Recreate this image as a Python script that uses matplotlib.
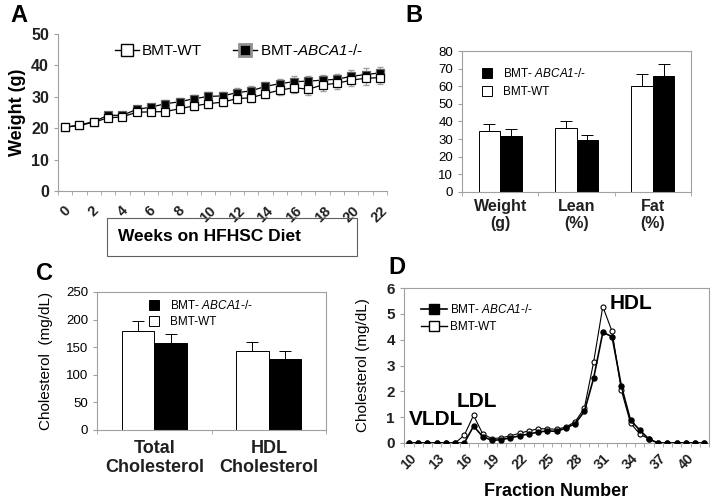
import matplotlib
matplotlib.use("Agg")
import matplotlib.pyplot as plt
from matplotlib.lines import Line2D
from matplotlib.patches import Rectangle, Patch
import numpy as np

plt.rcParams['font.family'] = ['Liberation Sans', 'DejaVu Sans']
plt.rcParams['mathtext.fontset'] = 'custom'
plt.rcParams['mathtext.rm'] = 'Liberation Sans:italic'
plt.rcParams['mathtext.it'] = 'Liberation Sans:italic'
plt.rcParams['mathtext.bf'] = 'Liberation Sans:bold:italic'

# ---------------- Data ----------------
# Panel A: body weight over weeks
weeks = list(range(0, 23))
wt_weight = [20.3, 20.9, 21.9, 23.3, 23.6, 25.1, 25.2, 25.3, 26.2, 27.1, 27.8, 28.3,
             29.4, 29.7, 31.0, 32.1, 32.9, 32.4, 33.8, 34.3, 35.3, 35.9, 36.1]
ko_weight = [20.3, 21.0, 22.1, 24.1, 24.1, 26.0, 26.7, 27.8, 28.4, 29.4, 30.1, 30.3,
             31.3, 31.9, 33.3, 34.2, 34.8, 35.0, 35.3, 35.6, 36.5, 37.1, 37.6]
wt_weight_err = [0.5, 0.6, 0.7, 0.8, 0.8, 0.9, 1.0, 1.1, 1.1, 1.2, 1.3, 1.3,
                 1.4, 1.5, 1.5, 1.6, 1.7, 1.7, 1.8, 1.8, 1.9, 2.0, 2.0]
ko_weight_err = [0.5, 0.6, 0.7, 0.8, 0.8, 0.9, 1.0, 1.1, 1.1, 1.2, 1.3, 1.3,
                 1.4, 1.5, 1.5, 1.6, 1.7, 1.7, 1.8, 1.8, 1.9, 2.0, 2.0]
weeks_ticklabels = [str(w) for w in range(0, 23, 2)]

# Panel B: body composition
b_categories = ["Weight\n(g)", "Lean\n(%)", "Fat\n(%)"]
b_wt = [34.5, 36.2, 60.3]
b_wt_err = [4.0, 4.2, 6.8]
b_ko = [32.0, 29.3, 65.8]
b_ko_err = [3.5, 3.2, 6.7]

# Panel C: plasma cholesterol
c_categories = ["Total\nCholesterol", "HDL\nCholesterol"]
c_wt = [179, 143]
c_wt_err = [19, 16]
c_ko = [158, 128]
c_ko_err = [16, 15]

# Panel D: FPLC profile
fractions = list(range(10, 43))
d_ko = [0, 0, 0, 0, 0, 0, 0.0, 0.65, 0.25, 0.10, 0.13, 0.20, 0.28, 0.35, 0.42, 0.47,
        0.45, 0.58, 0.75, 1.22, 2.50, 4.28, 4.12, 2.22, 0.88, 0.50, 0.15, 0, 0, 0, 0, 0, 0]
d_wt = [0, 0, 0, 0, 0, 0, 0.30, 1.07, 0.35, 0.17, 0.20, 0.28, 0.38, 0.47, 0.55, 0.55,
        0.53, 0.62, 0.82, 1.35, 3.12, 5.28, 4.32, 2.05, 0.77, 0.35, 0.15, 0, 0, 0, 0, 0, 0]
d_ticks = list(range(10, 43, 3))

KO_LABEL = "BMT- $ABCA1$-/-"
KO_LABEL_A = "BMT-$ABCA1$-/-"

W, H = 715, 499
fig = plt.figure(figsize=(W / 100, H / 100), dpi=100)


def ax_px(l, t, r, b):
    return fig.add_axes([l / W, 1 - b / H, (r - l) / W, (b - t) / H])


def fx(x):
    return x / W


def fy(y):
    return 1 - y / H


spine_gray = '#a0a0a0'

# ---------------- Panel A ----------------
axA = ax_px(58, 34, 387, 191)
axA.errorbar(weeks, wt_weight, yerr=wt_weight_err, fmt='none', ecolor='#a0a0a0',
             elinewidth=0.8, capsize=2.5, zorder=1)
axA.errorbar(weeks, ko_weight, yerr=ko_weight_err, fmt='none', ecolor='#a0a0a0',
             elinewidth=0.8, capsize=2.5, zorder=1)
axA.plot(weeks, ko_weight, color='black', lw=0.9, marker='s', ms=5.2,
         mfc='black', mec='#606060', mew=0.9, zorder=2)
axA.plot(weeks, wt_weight, color='black', lw=0.9, marker='s', ms=5.2,
         mfc='white', mec='black', mew=0.9, zorder=3)
axA.set_xlim(-0.5, 22.5)
axA.set_ylim(0, 50)
axA.set_yticks(range(0, 51, 10))
axA.set_xticks(range(0, 23, 2))
axA.set_xticklabels(weeks_ticklabels, rotation=45, fontsize=10.5, fontweight='bold',
                    color='#202020')
axA.set_xticks(np.arange(-0.5, 23, 1), minor=True)
axA.tick_params(axis='x', which='major', length=0, pad=9)
axA.tick_params(axis='x', which='minor', length=3, color=spine_gray)
axA.tick_params(axis='y', length=3, color=spine_gray, labelsize=11.5)
for lab in axA.get_yticklabels():
    lab.set_fontweight('bold')
    lab.set_color('#202020')
for s in ['top', 'right']:
    axA.spines[s].set_visible(False)
for s in ['left', 'bottom']:
    axA.spines[s].set_color(spine_gray)
axA.set_ylabel("Weight (g)", fontsize=13, fontweight='bold', labelpad=4)
hA = [Line2D([], [], color='black', lw=1, marker='s', ms=9, mfc='white', mec='black'),
      Line2D([], [], color='black', lw=1, marker='s', ms=9, mfc='black', mec='#909090', mew=2)]
axA.legend(hA, ["BMT-WT", KO_LABEL_A], loc='upper left',
           bbox_to_anchor=(0.13, 1.03), ncol=2, frameon=False, fontsize=11,
           handlelength=1.6, handletextpad=0.2, columnspacing=2.0)
# boxed x-axis caption
fig.patches.append(Rectangle((fx(107), fy(256)), fx(357) - fx(107), fy(218) - fy(256),
                             transform=fig.transFigure, fill=False, ec='#606060', lw=0.8))
fig.text(fx(210), fy(237), "Weeks on HFHSC Diet", ha='center', va='center',
         fontsize=12.5, fontweight='bold')
fig.text(fx(10), fy(15), "A", fontsize=17, fontweight='bold', va='center')

# ---------------- Panel B ----------------
axB = ax_px(462, 51, 691, 192)
xb = np.arange(len(b_categories))
bw = 0.28
axB.bar(xb - bw / 2, b_wt, bw, color='white', edgecolor='black', lw=0.7,
        yerr=[[0] * 3, b_wt_err], error_kw=dict(elinewidth=0.7, capsize=4, capthick=0.7))
axB.bar(xb + bw / 2, b_ko, bw, color='black', edgecolor='black', lw=0.7,
        yerr=[[0] * 3, b_ko_err], error_kw=dict(elinewidth=0.7, capsize=4, capthick=0.7))
axB.set_xlim(-0.5, 2.5)
axB.set_ylim(0, 80)
axB.set_yticks(range(0, 81, 10))
axB.set_xticks(xb)
axB.set_xticklabels(b_categories, fontsize=11.5, fontweight='bold', color='#202020')
axB.set_xticks([-0.5, 0.5, 1.5, 2.5], minor=True)
axB.tick_params(axis='x', which='major', length=0, pad=5)
axB.tick_params(axis='x', which='minor', length=3, color=spine_gray)
axB.tick_params(axis='y', length=3, color=spine_gray, labelsize=9.5)
for s in axB.spines.values():
    s.set_color(spine_gray)
hB = [Patch(fc='black', ec='black', lw=0.7), Patch(fc='white', ec='black', lw=0.7)]
axB.legend(hB, [KO_LABEL, "BMT-WT"], loc='upper left',
           bbox_to_anchor=(0.04, 0.96), frameon=False, fontsize=8.5,
           handlelength=0.9, handleheight=0.9, handletextpad=0.9, labelspacing=0.5)
fig.text(fx(405), fy(15), "B", fontsize=17, fontweight='bold', va='center')

# ---------------- Panel C ----------------
axC = ax_px(97, 292, 326, 430)
xc = np.arange(len(c_categories))
cw = 0.285
axC.bar(xc - cw / 2, c_wt, cw, color='white', edgecolor='black', lw=0.7,
        yerr=[[0] * 2, c_wt_err], error_kw=dict(elinewidth=0.7, capsize=4, capthick=0.7))
axC.bar(xc + cw / 2, c_ko, cw, color='black', edgecolor='black', lw=0.7,
        yerr=[[0] * 2, c_ko_err], error_kw=dict(elinewidth=0.7, capsize=4, capthick=0.7))
axC.set_xlim(-0.5, 1.5)
axC.set_ylim(0, 250)
axC.set_yticks(range(0, 251, 50))
axC.set_xticks(xc)
axC.set_xticklabels(c_categories, fontsize=13, fontweight='bold', color='#202020')
axC.set_xticks([-0.5, 0.5, 1.5], minor=True)
axC.tick_params(axis='x', which='major', length=0, pad=7)
axC.tick_params(axis='x', which='minor', length=3, color=spine_gray)
axC.tick_params(axis='y', length=3, color=spine_gray, labelsize=9.5)
for s in axC.spines.values():
    s.set_color(spine_gray)
axC.set_ylabel("Cholesterol  (mg/dL)", fontsize=11, labelpad=9)
axC.legend(hB, [KO_LABEL, "BMT-WT"], loc='upper left',
           bbox_to_anchor=(0.18, 1.025), frameon=False, fontsize=8.5,
           handlelength=0.9, handleheight=0.9, handletextpad=0.9, labelspacing=0.35)
fig.text(fx(36), fy(274), "C", fontsize=17, fontweight='bold', va='center')

# ---------------- Panel D ----------------
axD = ax_px(404, 288, 709, 443)
axD.plot(fractions, d_wt, color='black', lw=0.8, marker='o', ms=3.6,
         mfc='white', mec='black', mew=0.8, zorder=2)
axD.plot(fractions, d_ko, color='black', lw=1.2, marker='o', ms=3.6,
         mfc='black', mec='black', zorder=3)
axD.set_xlim(9.47, 42.17)
axD.set_ylim(0, 6)
axD.set_yticks(range(0, 7))
axD.set_xticks(d_ticks)
axD.set_xticklabels([str(t) for t in d_ticks], rotation=45, fontsize=10,
                    fontweight='bold', color='#202020')
axD.set_xticks(np.arange(9.5, 42.6, 1), minor=True)
axD.tick_params(axis='x', which='major', length=0, pad=6)
axD.tick_params(axis='x', which='minor', length=3, color=spine_gray)
axD.tick_params(axis='y', length=3, color=spine_gray, labelsize=11)
for lab in axD.get_yticklabels():
    lab.set_fontweight('bold')
    lab.set_color('#202020')
for s in axD.spines.values():
    s.set_color(spine_gray)
axD.set_ylabel("Cholesterol (mg/dL)", fontsize=11, labelpad=12)
axD.set_xlabel("Fraction Number", fontsize=13, fontweight='bold', labelpad=8)
hD = [Line2D([], [], color='black', lw=1.2, marker='s', ms=7, mfc='black', mec='black'),
      Line2D([], [], color='black', lw=1, marker='s', ms=7, mfc='white', mec='black')]
axD.legend(hD, [KO_LABEL, "BMT-WT"], loc='upper left',
           bbox_to_anchor=(0.02, 0.97), frameon=False, fontsize=8.5,
           handlelength=2.2, handletextpad=0.3, labelspacing=0.4)
axD.text(10.0, 0.9, "VLDL", fontsize=15, fontweight='bold', ha='left', va='center')
axD.text(17.4, 1.6, "LDL", fontsize=15, fontweight='bold', ha='center', va='center')
axD.text(34.0, 5.4, "HDL", fontsize=15, fontweight='bold', ha='center', va='center')
fig.text(fx(388), fy(268), "D", fontsize=17, fontweight='bold', va='center')

fig.savefig("out.png", dpi=100)
